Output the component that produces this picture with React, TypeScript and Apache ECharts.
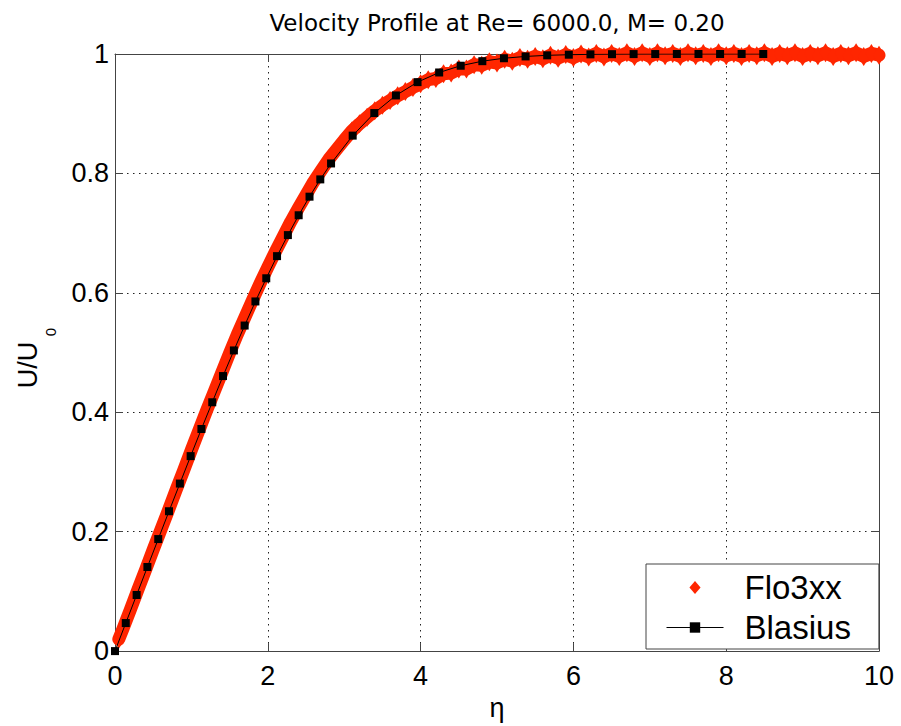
import React, { useEffect, useRef } from "react";
import * as echarts from "echarts";

// Blasius similarity solution (eta, U/U0)
const blasiusEta = [0, 0.141, 0.283, 0.424, 0.566, 0.707, 0.849, 0.990, 1.131, 1.273, 1.414, 1.556, 1.697, 1.838, 1.980, 2.121, 2.263, 2.404, 2.546, 2.687, 2.828, 3.111, 3.394, 3.677, 3.960, 4.243, 4.525, 4.808, 5.091, 5.374, 5.657, 5.940, 6.223, 6.505, 6.788, 7.071, 7.354, 7.637, 7.920, 8.202, 8.485];
const blasiusU = [0, 0.04696, 0.09391, 0.14081, 0.18761, 0.23423, 0.28058, 0.32653, 0.37196, 0.41672, 0.46063, 0.50354, 0.54525, 0.58559, 0.62439, 0.66147, 0.6967, 0.72993, 0.76106, 0.79, 0.81669, 0.8633, 0.90107, 0.9306, 0.95288, 0.96905, 0.98037, 0.98797, 0.99289, 0.99594, 0.99777, 0.99882, 0.9994, 0.9997, 0.99986, 0.99994, 0.99997, 0.99999, 1.0, 1.0, 1.0];

// Flo3xx computed profile (eta, U/U0)
const floEta = [0.05, 0.1, 0.2, 0.3, 0.4, 0.5, 0.6, 0.7, 0.8, 0.9, 1.0, 1.1, 1.2, 1.3, 1.4, 1.5, 1.6, 1.7, 1.8, 1.9, 2.0, 2.1, 2.2, 2.3, 2.4, 2.5, 2.6, 2.7, 2.8, 2.9, 3.0, 3.1, 3.2, 3.3, 3.4, 3.5, 3.6, 3.7, 3.8, 3.9, 4.0, 4.1, 4.2, 4.3, 4.4, 4.5, 4.6, 4.7, 4.8, 4.9, 5.0, 5.1, 5.2, 5.3, 5.4, 5.5, 5.6, 5.7, 5.8, 5.9, 6.0, 6.1, 6.2, 6.3, 6.4, 6.5, 6.6, 6.7, 6.8, 6.9, 7.0, 7.1, 7.2, 7.3, 7.4, 7.5, 7.6, 7.7, 7.8, 7.9, 8.0, 8.1, 8.2, 8.3, 8.4, 8.5, 8.6, 8.7, 8.8, 8.9, 9.0, 9.1, 9.2, 9.3, 9.4, 9.5, 9.6, 9.7, 9.8, 9.9, 10.0];
const floU = [0.02, 0.036, 0.069, 0.103, 0.136, 0.17, 0.203, 0.236, 0.27, 0.303, 0.337, 0.37, 0.403, 0.435, 0.467, 0.499, 0.53, 0.559, 0.588, 0.616, 0.643, 0.669, 0.694, 0.719, 0.742, 0.764, 0.786, 0.805, 0.824, 0.84, 0.856, 0.871, 0.883, 0.894, 0.905, 0.914, 0.922, 0.93, 0.937, 0.944, 0.95, 0.957, 0.959, 0.967, 0.968, 0.975, 0.975, 0.982, 0.981, 0.987, 0.985, 0.991, 0.988, 0.994, 0.991, 0.996, 0.992, 0.998, 0.993, 0.999, 0.994, 1.0, 0.995, 1.001, 0.995, 1.001, 0.996, 1.002, 0.996, 1.002, 0.996, 1.002, 0.997, 1.001, 0.996, 1.002, 0.997, 1.001, 0.996, 1.002, 0.997, 1.001, 0.996, 1.001, 0.997, 1.002, 0.996, 1.001, 0.997, 1.002, 0.996, 1.001, 0.997, 1.002, 0.996, 1.001, 0.997, 1.002, 0.996, 1.001, 0.998];

const xTicks = { min: 0, max: 10, interval: 2 };
const yTicks = { min: 0, max: 1, interval: 0.2 };

const TITLE = "Velocity Profile at Re= 6000.0, M= 0.20";
const RED = "#ff2600";
const AXIS = "#444";
const SANS = '"Liberation Sans", Arial, sans-serif';

export default function App() {
  const ref = useRef<HTMLDivElement>(null);
  useEffect(() => {
    if (!ref.current) return;
    const chart = echarts.init(ref.current, undefined, { renderer: "svg" });
    const flo = floEta.map((x, i) => [x, floU[i]]);
    const bl = blasiusEta.map((x, i) => [x, blasiusU[i]]);
    const grid = { color: "#222", type: [1.5, 4.5] as any, width: 1 };
    chart.setOption({
      animation: false,
      backgroundColor: "#fff",
      title: {
        text: TITLE,
        left: 497,
        top: 11,
        padding: 0,
        textAlign: "center",
        textStyle: { fontFamily: '"DejaVu Sans", sans-serif', fontSize: 23, fontWeight: "normal", color: "#000" },
      },
      grid: { left: 115, right: 22, top: 54, bottom: 68 },
      legend: {
        orient: "vertical",
        left: 646,
        top: 564,
        padding: [7, 28, 5, 20],
        itemWidth: 57,
        itemHeight: 13,
        itemGap: 7,
        symbolKeepAspect: true,
        backgroundColor: "#fff",
        borderColor: AXIS,
        borderWidth: 1,
        borderRadius: 0,
        textStyle: { fontFamily: SANS, fontSize: 33, color: "#000", padding: [0, 0, 0, 16] },
        data: [
          { name: "Flo3xx", icon: "path://M6,0L12,7L6,14L0,7Z", itemStyle: { color: RED } },
          { name: "Blasius", lineStyle: { width: 1 } },
        ],
      },
      xAxis: [
        {
          type: "value",
          ...xTicks,
          position: "bottom",
          name: "η",
          nameLocation: "middle",
          nameGap: 32,
          nameTextStyle: { fontFamily: SANS, fontSize: 27, color: "#000" },
          axisLine: { show: true, lineStyle: { color: AXIS, width: 1 } },
          axisTick: { show: true, inside: true, length: 8, lineStyle: { color: AXIS } },
          axisLabel: { fontFamily: SANS, fontSize: 27, color: "#000", margin: 11 },
          splitLine: { show: true, lineStyle: grid },
        },
        {
          type: "value",
          ...xTicks,
          position: "top",
          axisLine: { show: true, onZero: false, lineStyle: { color: AXIS, width: 1 } },
          axisTick: { show: true, inside: true, length: 8, lineStyle: { color: AXIS } },
          axisLabel: { show: false },
          splitLine: { show: false },
        },
      ],
      yAxis: [
        {
          type: "value",
          ...yTicks,
          position: "left",
          axisLine: { show: true, lineStyle: { color: AXIS, width: 1 } },
          axisTick: { show: true, inside: true, length: 8, lineStyle: { color: AXIS } },
          axisLabel: { fontFamily: SANS, fontSize: 27, color: "#000", margin: 6 },
          splitLine: { show: true, lineStyle: grid },
        },
        {
          type: "value",
          ...yTicks,
          position: "right",
          axisLine: { show: true, onZero: false, lineStyle: { color: AXIS, width: 1 } },
          axisTick: { show: true, inside: true, length: 8, lineStyle: { color: AXIS } },
          axisLabel: { show: false },
          splitLine: { show: false },
        },
      ],
      graphic: [
        {
          type: "text",
          x: 28,
          y: 365,
          rotation: Math.PI / 2,
          style: {
            text: "U/U",
            font: '27px "Liberation Sans", Arial, sans-serif',
            fill: "#000",
            align: "center",
            verticalAlign: "middle",
            textAlign: "center",
            textVerticalAlign: "middle",
          },
        },
        {
          type: "text",
          x: 50,
          y: 332,
          rotation: Math.PI / 2,
          style: {
            text: "0",
            font: '15px "Liberation Sans", Arial, sans-serif',
            fill: "#000",
            align: "center",
            verticalAlign: "middle",
            textAlign: "center",
            textVerticalAlign: "middle",
          },
        },
      ],
      series: [
        {
          name: "Flo3xx",
          type: "line",
          data: flo,
          xAxisIndex: 0,
          yAxisIndex: 0,
          symbol: "diamond",
          symbolSize: [12, 19],
          showAllSymbol: true,
          itemStyle: { color: RED },
          lineStyle: { color: RED, width: 13, cap: "round", join: "round" },
          clip: false,
          z: 2,
        },
        {
          name: "Blasius",
          type: "line",
          data: bl,
          xAxisIndex: 0,
          yAxisIndex: 0,
          symbol: "rect",
          symbolSize: 8,
          showAllSymbol: true,
          itemStyle: { color: "#000" },
          lineStyle: { color: "#000", width: 1 },
          z: 3,
        },
      ],
    });
    return () => chart.dispose();
  }, []);
  return <div ref={ref} style={{ position: "absolute", left: 0, top: 0, width: 901, height: 726 }} />;
}
